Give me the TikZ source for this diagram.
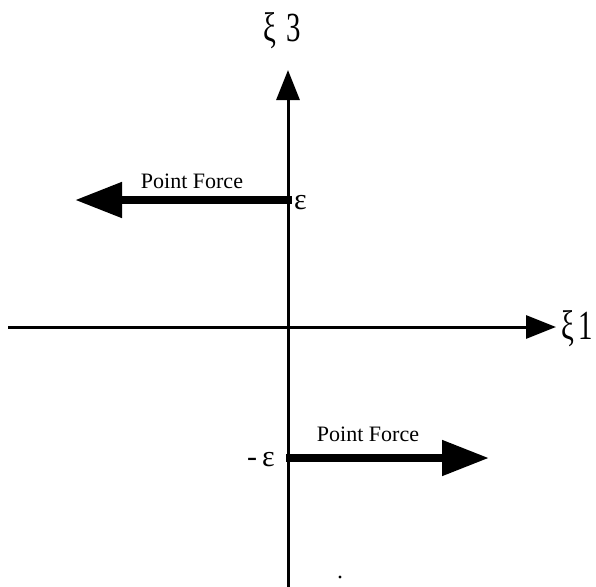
\documentclass[tikz,border=0pt]{standalone}
\usepackage{fontspec}
\setmainfont{Liberation Serif}
\usetikzlibrary{arrows.meta}
\begin{document}
\begin{tikzpicture}[x=1pt,y=-1pt,
  axis/.style={line width=3pt,-{Triangle[length=30pt,width=23pt]}},
  force/.style={line width=8pt,-{Triangle[length=47pt,width=34pt]}},
  forcelabel/.style={font=\fontsize{22}{24}\selectfont,inner sep=0pt},
  axislabel/.style={font=\fontsize{36}{38}\selectfont,inner sep=0pt,xscale=0.8,yscale=1.15},
  epslabel/.style={font=\fontsize{30}{32}\selectfont,inner sep=0pt}]
\useasboundingbox (0,0) rectangle (596,586);
% axes
\coordinate (xl) at (8,327);
\coordinate (xr) at (556,327);
\coordinate (yb) at (288,590);
\coordinate (yt) at (288,70);
\draw[axis] (xl) -- (xr);
\draw[axis] (yb) -- (yt);
\node[axislabel,anchor=west] (x1) at (561,329) {ξ\hspace{6pt}1};
\node[axislabel] (x3) at (282,31) {ξ\hspace{12pt}3};
% upper force
\coordinate (f1s) at (292,200);
\coordinate (f1e) at (75,200);
\draw[force] (f1s) -- (f1e);
\node[forcelabel,anchor=base] (p1) at (192,188) {Point Force};
\node[epslabel,anchor=west] (e1) at (294,203) {ε};
% lower force
\coordinate (f2s) at (286,458);
\coordinate (f2e) at (489,458);
\draw[force] (f2s) -- (f2e);
\node[forcelabel,anchor=base] (p2) at (368,441) {Point Force};
\node[epslabel,anchor=east] (e2) at (275,460) {-\,ε};
% stray dot
\fill (340,577) circle (1.6pt);
\end{tikzpicture}
\end{document}
